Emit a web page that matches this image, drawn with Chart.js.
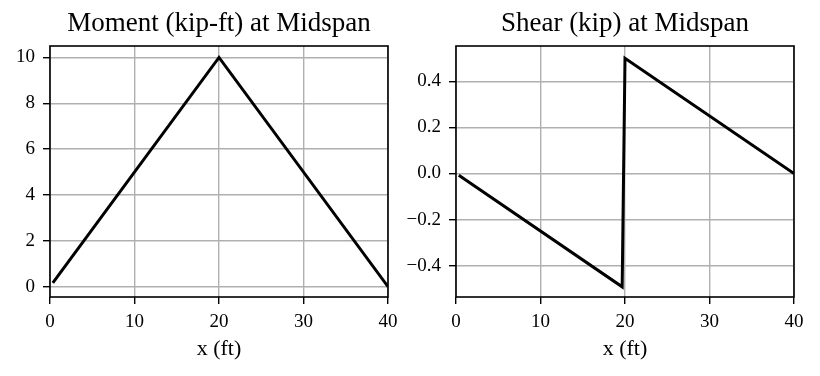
<!DOCTYPE html>
<html>
<head>
<meta charset="utf-8">
<script src="https://cdn.jsdelivr.net/npm/chart.js@4/dist/chart.umd.min.js"></script>
<style>
  html, body { margin: 0; padding: 0; background: #fff; }
  #wrap { position: relative; width: 820px; height: 376px; overflow: hidden; background: #fff; }
  canvas { position: absolute; top: 0; }
</style>
</head>
<body>
<div id="wrap">
  <canvas id="c1" width="405" height="376" style="left:0px"></canvas>
  <canvas id="c2" width="430" height="376" style="left:390px"></canvas>
</div>
<script>
// ---- data ----
const momentX = [0.333, 20, 40];
const momentY = [0.167, 10, 0];
const shearX = [0.333, 19.667, 20, 40];
const shearY = [-0.008, -0.492, 0.5, 0];
const xTicks = [0, 10, 20, 30, 40];
const xTickLabels = ["0", "10", "20", "30", "40"];
const momentTicks = [0, 2, 4, 6, 8, 10];
const momentTickLabels = ["0", "2", "4", "6", "8", "10"];
const shearTicks = [-0.4, -0.2, 0, 0.2, 0.4];
const shearTickLabels = ["\u22120.4", "\u22120.2", "0.0", "0.2", "0.4"];
const titles = ["Moment (kip-ft) at Midspan", "Shear (kip) at Midspan"];
const xTitle = "x (ft)";

const FONT = "'Liberation Serif', 'Times New Roman', serif";

const frame = {
  id: 'frame',
  afterLayout(chart) {
    const t = chart.titleBlock, a = chart.chartArea;
    if (t && a) { t.left = a.left; t.right = a.right; t.width = a.right - a.left; }
  },
  afterDatasetsDraw(chart) {
    const a = chart.chartArea, ctx = chart.ctx;
    ctx.save();
    ctx.strokeStyle = '#000';
    ctx.lineWidth = 1.6;
    ctx.strokeRect(a.left, a.top, a.right - a.left, a.bottom - a.top);
    ctx.restore();
  }
};

function makeChart(id, xs, ys, title, yTicks, yLabels, yMin, yMax, yAxisWidth, padRight) {
  const pts = xs.map((x, i) => ({x: x, y: ys[i]}));
  return new Chart(document.getElementById(id), {
    type: 'line',
    data: { datasets: [{ data: pts, borderColor: '#000', borderWidth: 3, pointRadius: 0, tension: 0, fill: false }] },
    plugins: [frame],
    options: {
      responsive: false, animation: false, devicePixelRatio: 1,
      layout: { padding: { left: 0, right: padRight, top: 0, bottom: 0 } },
      plugins: {
        legend: { display: false }, tooltip: { enabled: false },
        title: { display: true, text: title, color: '#000',
          font: { family: FONT, size: 27, weight: 'normal', lineHeight: 1.2 },
          padding: { top: 8, bottom: 5.6 } }
      },
      scales: {
        x: {
          type: 'linear', min: 0, max: 40,
          afterBuildTicks: s => { s.ticks = xTicks.map(v => ({value: v})); },
          afterFit: s => { s.height = 79; },
          ticks: { color: '#000', padding: 7, maxRotation: 0,
            font: { family: FONT, size: 19 },
            callback: (v) => { const i = xTicks.indexOf(v); return i >= 0 ? xTickLabels[i] : ''; } },
          grid: { color: '#b0b0b0', lineWidth: 1.4, tickColor: '#000', tickLength: 7, tickWidth: 1.4 },
          border: { display: false },
          title: { display: true, text: xTitle, color: '#000',
            font: { family: FONT, size: 22, lineHeight: 1.2 }, padding: { top: 0, bottom: 14 } }
        },
        y: {
          type: 'linear', min: yMin, max: yMax,
          afterBuildTicks: s => { s.ticks = yTicks.map(v => ({value: v})); },
          afterFit: s => { s.width = yAxisWidth; },
          ticks: { color: '#000', padding: 8,
            font: { family: FONT, size: 19 },
            callback: (v) => { const i = yTicks.findIndex(t => Math.abs(t - v) < 1e-9); return i >= 0 ? yLabels[i] : ''; } },
          grid: { color: '#b0b0b0', lineWidth: 1.4, tickColor: '#000', tickLength: 7, tickWidth: 1.4 },
          border: { display: false }
        }
      }
    }
  });
}

makeChart('c1', momentX, momentY, titles[0], momentTicks, momentTickLabels, -0.45, 10.5, 50, 17);
makeChart('c2', shearX, shearY, titles[1], shearTicks, shearTickLabels, -0.536, 0.553, 66, 26);
</script>
</body>
</html>
